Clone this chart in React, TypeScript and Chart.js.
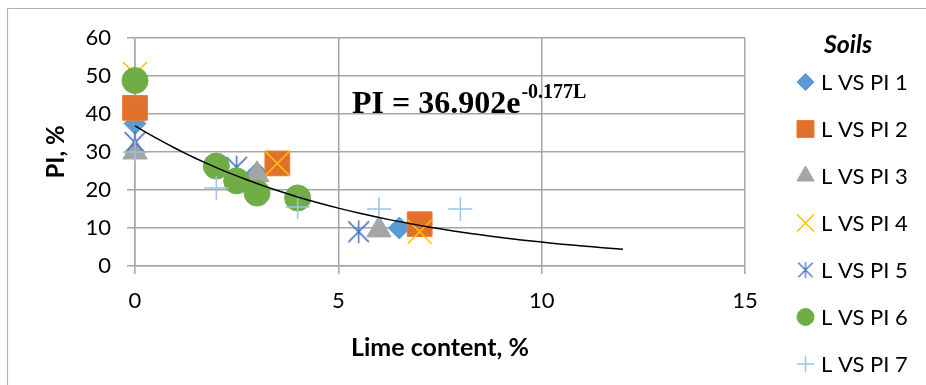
import React, { useEffect, useRef } from 'react';
import { Chart, registerables } from 'chart.js';
import { drawPoint } from 'chart.js/helpers';

Chart.register(...registerables);

// ---- data ----
const seriesNames = ['L VS PI 1', 'L VS PI 2', 'L VS PI 3', 'L VS PI 4', 'L VS PI 5', 'L VS PI 6', 'L VS PI 7'];
const s1x = [0, 3, 6.5];
const s1y = [37.5, 24.5, 10];
const s2x = [0, 3.5, 7];
const s2y = [41.6, 27, 11];
const s3x = [0, 3, 6];
const s3y = [30, 24, 9.5];
const s4x = [0, 3.5, 7];
const s4y = [50.5, 27, 9];
const s5x = [0, 2.5, 5.5];
const s5y = [32.5, 26, 9];
const s6x = [0, 2, 2.5, 3, 4];
const s6y = [48.8, 26.3, 22.4, 19.2, 17.9];
const s7x = [0, 2, 4, 6, 8];
const s7y = [30, 20.5, 15.5, 15, 15];
const seriesX = [s1x, s2x, s3x, s4x, s5x, s6x, s7x];
const seriesY = [s1y, s2y, s3y, s4y, s5y, s6y, s7y];

// exponential trendline shown on the chart: PI = 36.902 e^(-0.177 L)
const trendA = 36.902;
const trendK = -0.177;
const trendXMax = 12;

const xTickValues = [0, 5, 10, 15];
const yTickValues = [0, 10, 20, 30, 40, 50, 60];
const xTitle = 'Lime content, %';
const yTitle = 'PI, %';
const legendTitle = 'Soils';

const FONT = 'Lato';

function makeStar(size: number, color: string, lw: number): HTMLCanvasElement {
  const c = document.createElement('canvas');
  c.width = size;
  c.height = size;
  const ctx = c.getContext('2d')!;
  ctx.strokeStyle = color;
  ctx.lineWidth = lw;
  const m = size / 2;
  const r = size / 2 - 1;
  const a = r * 0.9;
  ctx.beginPath();
  ctx.moveTo(m, m - r);
  ctx.lineTo(m, m + r);
  ctx.moveTo(m - a, m - a);
  ctx.lineTo(m + a, m + a);
  ctx.moveTo(m - a, m + a);
  ctx.lineTo(m + a, m - a);
  ctx.stroke();
  return c;
}

export default function App() {
  const ref = useRef<HTMLCanvasElement | null>(null);

  useEffect(() => {
    if (!ref.current) return;
    const starBig = makeStar(25, '#4472C4', 1.5);
    const starSmall = makeStar(18, '#4472C4', 1.3);

    const styles: any[] = [
      { pointStyle: 'rectRot', radius: 11, bg: '#5B9BD5', bc: '#5B9BD5', bw: 1, lr: 8.5 },
      { pointStyle: 'rect', radius: 17.5, bg: '#E0712C', bc: '#ED7D31', bw: 1, lr: 12 },
      { pointStyle: 'triangle', radius: 14, bg: '#A5A5A5', bc: '#A5A5A5', bw: 1, lr: 10 },
      { pointStyle: 'crossRot', radius: 17, bg: '#FFC000', bc: '#FFC000', bw: 1.5, lr: 12 },
      { pointStyle: starBig, radius: 12, bg: '#4472C4', bc: '#4472C4', bw: 1.5, lr: 9, legendImg: starSmall },
      { pointStyle: 'circle', radius: 13, bg: '#70AD47', bc: '#70AD47', bw: 1, lr: 8.5 },
      { pointStyle: 'cross', radius: 12, bg: '#9DC3E6', bc: '#9DC3E6', bw: 1.5, lr: 8.5 },
    ];

    const trendData: { x: number; y: number }[] = [];
    for (let x = 0; x <= trendXMax + 1e-9; x += 0.25) {
      trendData.push({ x, y: trendA * Math.exp(trendK * x) });
    }

    const datasets: any[] = seriesNames.map((name, i) => ({
      type: 'scatter',
      label: name,
      data: seriesX[i].map((x, j) => ({ x, y: seriesY[i][j] })),
      pointStyle: styles[i].pointStyle,
      pointRadius: styles[i].radius,
      backgroundColor: styles[i].bg,
      borderColor: styles[i].bc,
      borderWidth: styles[i].bw,
      clip: false,
      order: 10 - i,
    }));
    datasets.push({
      type: 'line',
      label: 'trend',
      data: trendData,
      borderColor: '#000000',
      borderWidth: 1.5,
      pointRadius: 0,
      tension: 0,
      fill: false,
      clip: false,
      order: 0,
    });

    const framePlugin = {
      id: 'frame',
      beforeDraw(chart: any) {
        const ctx = chart.ctx;
        ctx.save();
        ctx.strokeStyle = '#b4b4b4';
        ctx.lineWidth = 1.2;
        ctx.beginPath();
        ctx.moveTo(7.5, chart.height + 2);
        ctx.lineTo(7.5, 8.5);
        ctx.lineTo(chart.width + 2, 8.5);
        ctx.stroke();
        ctx.restore();
      },
    };

    const annotPlugin = {
      id: 'annot',
      afterDraw(chart: any) {
        const ctx = chart.ctx;
        ctx.save();
        // equation
        ctx.fillStyle = '#000';
        ctx.textAlign = 'left';
        ctx.textBaseline = 'alphabetic';
        ctx.font = 'bold 32px "Liberation Serif"';
        const main = `PI = ${trendA}e`;
        const x0 = 352;
        ctx.fillText(main, x0, 113);
        const w = ctx.measureText(main).width;
        ctx.font = 'bold 20px "Liberation Serif"';
        ctx.fillText(`${trendK}L`, x0 + w + 1, 98);

        // legend
        ctx.font = `italic bold 25px ${FONT}`;
        ctx.textAlign = 'center';
        ctx.textBaseline = 'middle';
        ctx.fillText(legendTitle, 848, 45);
        ctx.font = `22px ${FONT}`;
        ctx.textAlign = 'left';
        seriesNames.forEach((name, i) => {
          const y = 82 + i * 47;
          const st = styles[i];
          ctx.fillStyle = st.bg;
          ctx.strokeStyle = st.bc;
          ctx.lineWidth = st.bw;
          drawPoint(ctx, { pointStyle: st.legendImg || st.pointStyle, radius: st.lr, rotation: 0, borderWidth: st.bw }, 805.5, y);
          ctx.fillStyle = '#000';
          ctx.fillText(name, 821, y + 1);
        });
        ctx.restore();
      },
    };

    const gridColor = '#a6a6a6';
    const chart = new Chart(ref.current, {
      type: 'scatter',
      data: { datasets },
      options: {
        animation: false,
        responsive: false,
        events: [],
        layout: { padding: { left: 0, right: 181, top: 38, bottom: 0 } },
        plugins: { legend: { display: false }, tooltip: { enabled: false } },
        scales: {
          x: {
            type: 'linear',
            min: 0,
            max: 15,
            afterBuildTicks: (axis: any) => {
              axis.ticks = xTickValues.map((v) => ({ value: v }));
            },
            afterFit: (axis: any) => {
              axis.height = 119;
            },
            ticks: { color: '#000', font: { family: FONT, size: 22 }, padding: 14, maxRotation: 0 },
            grid: { color: gridColor, lineWidth: 1.5, tickLength: 8, drawTicks: true },
            border: { display: true, color: gridColor, width: 1.5 },
            title: {
              display: true,
              text: xTitle,
              color: '#000',
              font: { family: FONT, size: 25, weight: 'bold' },
              padding: { top: 0, bottom: 22 },
            },
          },
          y: {
            type: 'linear',
            min: 0,
            max: 60,
            afterBuildTicks: (axis: any) => {
              axis.ticks = yTickValues.map((v) => ({ value: v }));
            },
            afterFit: (axis: any) => {
              axis.width = 135;
            },
            ticks: { color: '#000', font: { family: FONT, size: 22 }, padding: 16 },
            grid: { color: gridColor, lineWidth: 1.5, tickLength: 8, drawTicks: true },
            border: { display: true, color: gridColor, width: 1.5 },
            title: {
              display: true,
              text: yTitle,
              color: '#000',
              font: { family: FONT, size: 24, weight: 'bold' },
              padding: { top: 42, bottom: 0 },
            },
          },
        },
      } as any,
      plugins: [framePlugin, annotPlugin],
    });
    return () => chart.destroy();
  }, []);

  return (
    <div style={{ position: 'absolute', left: 0, top: 0, width: 926, height: 385, background: '#fff' }}>
      <canvas ref={ref} width={926} height={385} style={{ display: 'block' }} />
    </div>
  );
}
